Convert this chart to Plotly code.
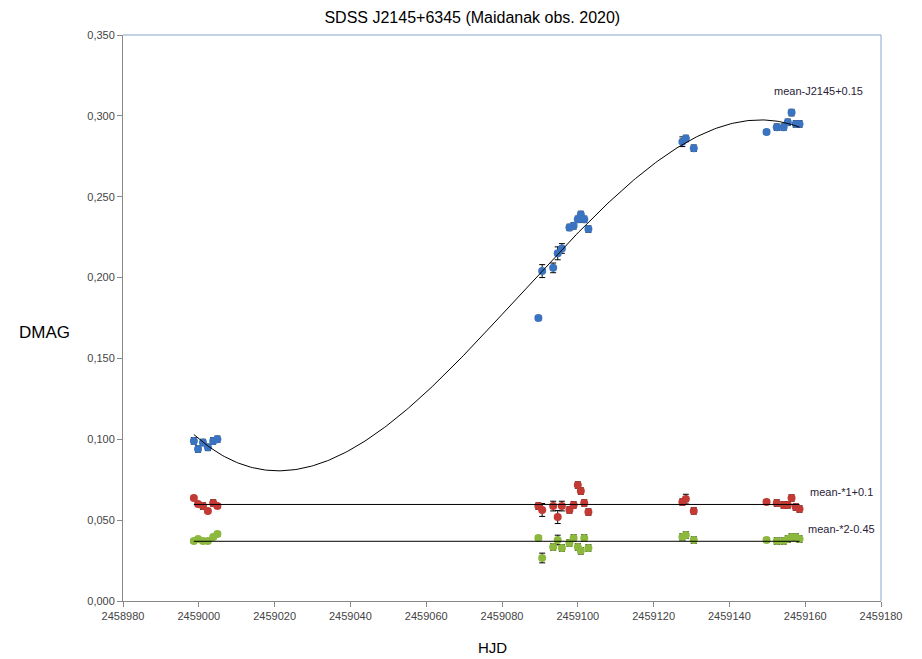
import numpy as np
import plotly.graph_objects as go

# ---- data ----
hjd = [2458998.7, 2458999.8, 2459001.1, 2459002.4, 2459003.8, 2459004.9,
       2459089.6, 2459090.6, 2459093.5, 2459094.7, 2459095.8, 2459097.8,
       2459098.9, 2459100.0, 2459100.8, 2459101.7, 2459102.8,
       2459127.6, 2459128.5, 2459130.6,
       2459149.8, 2459152.5, 2459154.3, 2459155.4, 2459156.4, 2459157.5, 2459158.5]

j2145 = [0.099, 0.094, 0.098, 0.095, 0.099, 0.100,
         0.175, 0.204, 0.206, 0.215, 0.218, 0.231,
         0.232, 0.236, 0.239, 0.236, 0.230,
         0.284, 0.286, 0.280,
         0.290, 0.293, 0.293, 0.296, 0.302, 0.295, 0.295]
j2145_err = [0.002, 0.002, 0.002, 0.002, 0.002, 0.002,
             0.0015, 0.004, 0.003, 0.004, 0.003, 0.002,
             0.002, 0.002, 0.002, 0.002, 0.002,
             0.003, 0.002, 0.002,
             0.0015, 0.002, 0.002, 0.002, 0.002, 0.002, 0.002]

star1 = [0.0637, 0.0600, 0.0587, 0.0557, 0.0606, 0.0587,
         0.0587, 0.0563, 0.0587, 0.0519, 0.0587, 0.0563,
         0.0594, 0.0717, 0.0680, 0.0606, 0.0550,
         0.0612, 0.0630, 0.0557,
         0.0612, 0.0606, 0.0594, 0.0594, 0.0637, 0.0581, 0.0569]
star1_err = [0.0015, 0.0015, 0.002, 0.0015, 0.002, 0.0015,
             0.002, 0.004, 0.003, 0.004, 0.003, 0.002,
             0.002, 0.002, 0.002, 0.002, 0.002,
             0.002, 0.003, 0.002,
             0.0015, 0.002, 0.002, 0.002, 0.002, 0.002, 0.002]

star2 = [0.0371, 0.0383, 0.0371, 0.0371, 0.0396, 0.0414,
         0.0390, 0.0266, 0.0334, 0.0377, 0.0328, 0.0359,
         0.0390, 0.0334, 0.0310, 0.0390, 0.0328,
         0.0396, 0.0408, 0.0377,
         0.0377, 0.0371, 0.0371, 0.0383, 0.0396, 0.0396, 0.0383]
star2_err = [0.0015, 0.0015, 0.0015, 0.0015, 0.0015, 0.0015,
             0.0015, 0.003, 0.002, 0.003, 0.002, 0.002,
             0.002, 0.002, 0.002, 0.002, 0.002,
             0.002, 0.002, 0.002,
             0.0015, 0.002, 0.002, 0.002, 0.002, 0.002, 0.002]

labels = ["mean-J2145+0.15", "mean-*1+0.1", "mean-*2-0.45"]

# ---- derived trend lines ----
x = np.array(hjd)
x0 = x.min()
coef = np.polyfit(x - x0, np.array(j2145), 3)
xs = np.linspace(x.min(), x.max(), 300)
ys = np.polyval(coef, xs - x0)
m1 = float(np.mean(star1))
m2 = float(np.mean(star2))

BLUE = "#3a73c0"
RED = "#c23a33"
GREEN = "#8cb83e"

fig = go.Figure()

def pts(y, err, color):
    return go.Scatter(
        x=hjd, y=y, mode="markers",
        marker=dict(symbol="circle", size=8, color=color),
        error_y=dict(type="data", array=err, visible=True,
                     color="black", thickness=1, width=3),
        showlegend=False, hoverinfo="x+y")

fig.add_trace(pts(star2, star2_err, GREEN))
fig.add_trace(pts(star1, star1_err, RED))
fig.add_trace(pts(j2145, j2145_err, BLUE))

fig.add_trace(go.Scatter(x=xs, y=ys, mode="lines",
                         line=dict(color="black", width=1), showlegend=False))
fig.add_trace(go.Scatter(x=[x.min(), x.max()], y=[m1, m1], mode="lines",
                         line=dict(color="black", width=1), showlegend=False))
fig.add_trace(go.Scatter(x=[x.min(), x.max()], y=[m2, m2], mode="lines",
                         line=dict(color="black", width=1), showlegend=False))

lab_font = dict(family="Liberation Sans, Arial, sans-serif", size=11, color="#2a2238")
fig.add_annotation(x=2459163.4, y=0.3154, text=labels[0], showarrow=False,
                   xanchor="center", yanchor="middle", font=lab_font)
fig.add_annotation(x=2459169.5, y=0.0674, text=labels[1], showarrow=False,
                   xanchor="center", yanchor="middle", font=lab_font)
fig.add_annotation(x=2459169.5, y=0.0445, text=labels[2], showarrow=False,
                   xanchor="center", yanchor="middle", font=lab_font)

fig.add_annotation(xref="paper", yref="paper", x=-0.103, y=0.4735, text="DMAG",
                   showarrow=False, xanchor="center", yanchor="middle",
                   font=dict(family="Liberation Sans, Arial, sans-serif", size=17, color="black"))
fig.add_annotation(xref="paper", yref="paper", x=0.488, y=-0.083, text="HJD",
                   showarrow=False, xanchor="center", yanchor="middle",
                   font=dict(family="Liberation Sans, Arial, sans-serif", size=15, color="black"))

# plot-area border (top and right)
fig.add_shape(type="line", xref="paper", yref="paper", x0=0, x1=1, y0=1, y1=1,
              line=dict(color="#8aa6cf", width=1))
fig.add_shape(type="line", xref="paper", yref="paper", x0=1, x1=1, y0=0, y1=1,
              line=dict(color="#8aa6cf", width=1))

fig.update_layout(
    width=914, height=651,
    margin=dict(l=115, r=41, t=27, b=58),
    paper_bgcolor="white", plot_bgcolor="white",
    separators=", ",
    font=dict(family="Liberation Sans, Arial, sans-serif", color="#444"),
    title=dict(text="SDSS J2145+6345 (Maidanak obs. 2020)", x=0.508, y=0.986,
               xanchor="center", yanchor="middle",
               font=dict(family="Liberation Sans, Arial, sans-serif", size=16, color="black")),
    xaxis=dict(range=[2458980, 2459180], dtick=20, tick0=2458980, tickformat="d",
               showgrid=False, zeroline=False, showline=True, linecolor="#888",
               linewidth=1, ticks="outside", ticklen=5, tickcolor="#888",
               tickfont=dict(size=11, color="#444")),
    yaxis=dict(range=[0, 0.35], dtick=0.05, tickformat=".3f",
               showgrid=False, zeroline=False, showline=True, linecolor="#888",
               linewidth=1, ticks="outside", ticklen=5, tickcolor="#888",
               tickfont=dict(size=11, color="#444")),
)

fig.write_html("out.html")
